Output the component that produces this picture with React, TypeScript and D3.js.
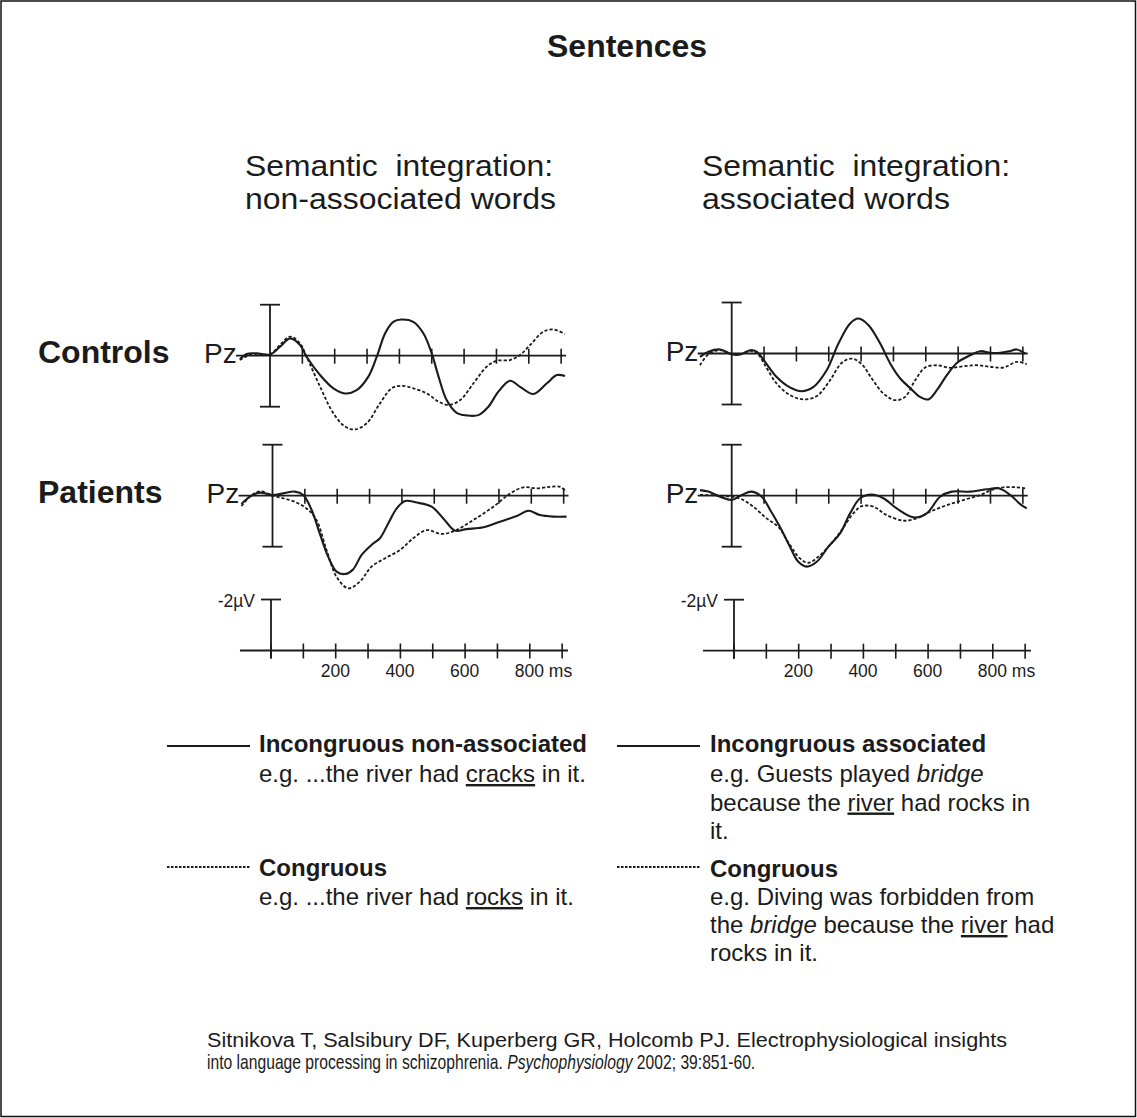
import React from "react";
import * as d3 from "d3";

// ---- Data (time in ms, amplitude in µV; negative plotted up) ----
type Pt = [number, number];

const ctrlNonAssocIncong: Pt[] = [
  [-93, 0.14], [-72, -0.07], [-41, -0.09], [0, -0.05], [31, -0.35], [62, -0.68], [93, -0.42],
  [113, 0.04], [155, 0.76], [196, 1.28], [232, 1.48], [268, 1.35], [304, 0.82], [330, 0.04],
  [356, -0.88], [381, -1.33], [407, -1.42], [443, -1.33], [474, -0.88], [500, -0.09], [521, 0.82],
  [546, 1.74], [577, 2.24], [608, 2.34], [644, 2.33], [675, 2.0], [706, 1.41], [742, 0.98],
  [773, 1.22], [814, 1.5], [856, 1.08], [887, 0.76], [912, 0.8],
];
const ctrlNonAssocCong: Pt[] = [
  [-93, 0.17], [-60, -0.05], [-30, -0.07], [0, -0.05], [31, -0.42], [62, -0.75], [93, -0.48],
  [113, 0.04], [155, 1.22], [196, 2.26], [232, 2.78], [263, 2.89], [299, 2.65], [340, 1.87],
  [376, 1.28], [407, 1.18], [443, 1.28], [485, 1.48], [521, 1.8], [552, 1.93], [588, 1.74],
  [629, 1.08], [670, 0.43], [701, 0.2], [742, 0.17], [773, -0.03], [804, -0.42], [845, -0.94],
  [876, -1.03], [912, -0.85],
];
const ctrlAssocIncong: Pt[] = [
  [-98, 0.13], [-72, -0.07], [-36, -0.16], [0, 0.03], [26, 0.04], [57, -0.13], [77, -0.07],
  [103, 0.33], [139, 0.92], [180, 1.33], [216, 1.48], [253, 1.31], [294, 0.65], [330, -0.39],
  [366, -1.18], [392, -1.37], [423, -1.11], [459, -0.39], [490, 0.39], [521, 0.98], [553, 1.37],
  [582, 1.7], [608, 1.8], [634, 1.44], [665, 0.85], [696, 0.37], [737, 0.07], [768, -0.09],
  [799, -0.03], [830, -0.03], [861, -0.1], [881, -0.16], [907, 0],
];
const ctrlAssocCong: Pt[] = [
  [-98, 0.46], [-72, 0.03], [-36, -0.13], [0, 0.03], [26, 0.03], [57, -0.1], [77, -0.04],
  [103, 0.46], [139, 1.18], [180, 1.63], [222, 1.8], [263, 1.67], [304, 1.05], [340, 0.37],
  [371, 0.2], [402, 0.42], [433, 0.98], [469, 1.57], [505, 1.83], [536, 1.7], [567, 1.05],
  [598, 0.55], [634, 0.46], [675, 0.56], [716, 0.5], [758, 0.46], [799, 0.52], [840, 0.55],
  [881, 0.33], [912, 0.42],
];
const patNonAssocIncong: Pt[] = [
  [-96, 0.33], [-70, 0.04], [-39, -0.12], [0, -0.03], [33, -0.09], [69, -0.16], [95, -0.03],
  [121, 0.56], [146, 1.48], [172, 2.39], [198, 2.98], [224, 3.07], [249, 2.89], [275, 2.33],
  [306, 1.93], [332, 1.67], [358, 1.08], [384, 0.5], [410, 0.21], [446, 0.27], [492, 0.43],
  [528, 0.89], [564, 1.37], [600, 1.31], [652, 1.24], [703, 1.02], [755, 0.8], [791, 0.59],
  [827, 0.76], [868, 0.82], [909, 0.82],
];
const patNonAssocCong: Pt[] = [
  [-96, 0.41], [-70, 0.04], [-39, -0.17], [0, 0], [33, 0.1], [69, 0.24], [105, 0.5],
  [136, 0.95], [167, 2.13], [198, 3.18], [234, 3.63], [270, 3.37], [306, 2.78], [347, 2.46],
  [394, 2.13], [435, 1.67], [476, 1.35], [523, 1.5], [564, 1.37], [621, 0.95], [683, 0.43],
  [735, -0.09], [776, -0.33], [817, -0.29], [858, -0.35], [889, -0.35], [909, -0.16],
];
const patAssocIncong: Pt[] = [
  [-98, -0.22], [-72, -0.16], [-36, 0.04], [0, 0.17], [31, -0.03], [62, -0.16], [93, 0.04],
  [119, 0.56], [149, 1.22], [180, 2.0], [206, 2.59], [232, 2.78], [263, 2.59], [299, 2.0],
  [335, 1.48], [366, 0.69], [397, 0.1], [433, -0.05], [469, 0.1], [510, 0.5], [562, 0.85],
  [603, 0.69], [644, 0.04], [680, -0.16], [737, -0.16], [789, -0.25], [825, -0.29],
  [861, -0.03], [892, 0.33], [912, 0.5],
];
const patAssocCong: Pt[] = [
  [-98, -0.03], [-46, -0.01], [0, 0.04], [31, 0.14], [67, 0.43], [108, 0.89], [144, 1.22],
  [180, 1.93], [211, 2.46], [237, 2.63], [268, 2.39], [304, 1.93], [340, 1.35], [376, 0.69],
  [402, 0.41], [438, 0.43], [479, 0.76], [531, 0.98], [572, 0.89], [613, 0.63], [665, 0.37],
  [716, 0.17], [768, -0.03], [809, -0.25], [840, -0.33], [882, -0.33], [907, -0.29],
];

const axisTicksMs = [100, 200, 300, 400, 500, 600, 700, 800, 900];
const scaleTicksMs = [0, 100, 200, 300, 400, 500, 600, 700, 800, 900];
const scaleLabels = [
  { t: 200, label: "200" },
  { t: 400, label: "400" },
  { t: 600, label: "600" },
  { t: 800, label: "800 ms" },
];
const rowLabels = ["Controls", "Patients"];

// ---- Layout ----
const W = 1137;
const H = 1118;
const PX_PER_100MS = 32.35;
const PX_PER_UV = 25.5;
const FONT = "'Liberation Sans', Arial, Helvetica, sans-serif";
const INK = "#1b1b1b";

const panels = [
  { x0: 270, y0: 355.7, pzY: 363, solid: ctrlNonAssocIncong, dashed: ctrlNonAssocCong },
  { x0: 731.7, y0: 353.5, pzY: 361, solid: ctrlAssocIncong, dashed: ctrlAssocCong },
  { x0: 272.5, y0: 495.7, pzY: 503, solid: patNonAssocIncong, dashed: patNonAssocCong },
  { x0: 731.7, y0: 495.7, pzY: 503, solid: patAssocIncong, dashed: patAssocCong },
];
const scaleBars = [
  { x0: 271, y0: 650.5 },
  { x0: 734, y0: 650.7 },
];

function Panel({ p }: { p: (typeof panels)[number] }) {
  const x = d3.scaleLinear().domain([0, 900]).range([p.x0, p.x0 + 9 * PX_PER_100MS]);
  const y = d3.scaleLinear().domain([-2, 2]).range([p.y0 - 2 * PX_PER_UV, p.y0 + 2 * PX_PER_UV]);
  const line = d3
    .line<Pt>()
    .x((d) => x(d[0]))
    .y((d) => y(d[1]))
    .curve(d3.curveCatmullRom.alpha(0.5));
  return (
    <g>
      <text x={p.x0 - 66} y={p.pzY} fontSize={28} fontFamily={FONT} fill={INK}>
        Pz
      </text>
      <line x1={x(-105)} x2={x(915)} y1={y(0)} y2={y(0)} stroke={INK} strokeWidth={1.8} />
      {axisTicksMs.map((t) => (
        <line key={t} x1={x(t)} x2={x(t)} y1={y(0) - 7} y2={y(0) + 8} stroke={INK} strokeWidth={1.6} />
      ))}
      <line x1={x(0)} x2={x(0)} y1={y(-2)} y2={y(2)} stroke={INK} strokeWidth={1.8} />
      <line x1={x(0) - 10} x2={x(0) + 10} y1={y(-2)} y2={y(-2)} stroke={INK} strokeWidth={1.8} />
      <line x1={x(0) - 10} x2={x(0) + 10} y1={y(2)} y2={y(2)} stroke={INK} strokeWidth={1.8} />
      <path d={line(p.dashed) || ""} fill="none" stroke={INK} strokeWidth={1.8} strokeDasharray="3.2,2" />
      <path d={line(p.solid) || ""} fill="none" stroke={INK} strokeWidth={2.1} />
    </g>
  );
}

function ScaleBar({ s }: { s: (typeof scaleBars)[number] }) {
  const x = d3.scaleLinear().domain([0, 900]).range([s.x0, s.x0 + 9 * PX_PER_100MS]);
  const y = d3.scaleLinear().domain([-2, 0]).range([s.y0 - 2 * PX_PER_UV, s.y0]);
  return (
    <g>
      <text x={x(0) - 16} y={y(-2) + 7.5} fontSize={17.5} fontFamily={FONT} textAnchor="end" fill={INK}>
        -2µV
      </text>
      <line x1={x(0)} x2={x(0)} y1={y(-2)} y2={y(0) + 8} stroke={INK} strokeWidth={1.8} />
      <line x1={x(0) - 10} x2={x(0) + 10} y1={y(-2)} y2={y(-2)} stroke={INK} strokeWidth={1.8} />
      <line x1={x(-96)} x2={x(918)} y1={y(0)} y2={y(0)} stroke={INK} strokeWidth={1.8} />
      {scaleTicksMs.map((t) => (
        <line key={t} x1={x(t)} x2={x(t)} y1={y(0) - 7} y2={y(0) + 8} stroke={INK} strokeWidth={1.6} />
      ))}
      {scaleLabels.map((l) => (
        <text key={l.t} x={x(l.t) - 15} y={y(0) + 26} fontSize={17.5} fontFamily={FONT} fill={INK}>
          {l.label}
        </text>
      ))}
    </g>
  );
}

const U = { textDecoration: "underline" } as React.CSSProperties;
const I = { fontStyle: "italic" } as React.CSSProperties;

export default function App() {
  return (
    <svg
      width={W}
      height={H}
      viewBox={`0 0 ${W} ${H}`}
      style={{ position: "absolute", left: 0, top: 0, background: "#fff" }}
      fontFamily={FONT}
    >
      <rect x={1} y={1} width={W - 2.5} height={H - 2.5} fill="#fff" stroke="#111" strokeWidth={1.5} />
      <text x={547} y={57} fontSize={32} fontWeight="bold" fill={INK}>
        Sentences
      </text>

      <text x={245} y={175.5} fontSize={30} fill={INK} textLength={308} lengthAdjust="spacingAndGlyphs" style={{ whiteSpace: "pre" }}>
        {"Semantic  integration:"}
      </text>
      <text x={245} y={208.5} fontSize={30} fill={INK} textLength={311} lengthAdjust="spacingAndGlyphs">
        non-associated words
      </text>
      <text x={702} y={175.5} fontSize={30} fill={INK} textLength={308} lengthAdjust="spacingAndGlyphs" style={{ whiteSpace: "pre" }}>
        {"Semantic  integration:"}
      </text>
      <text x={702} y={208.5} fontSize={30} fill={INK} textLength={248} lengthAdjust="spacingAndGlyphs">
        associated words
      </text>

      <text x={38} y={363} fontSize={32} fontWeight="bold" fill={INK}>
        {rowLabels[0]}
      </text>
      <text x={38} y={503} fontSize={32} fontWeight="bold" fill={INK}>
        {rowLabels[1]}
      </text>

      {panels.map((p, i) => (
        <Panel key={i} p={p} />
      ))}
      {scaleBars.map((s, i) => (
        <ScaleBar key={i} s={s} />
      ))}

      {/* Legend left */}
      <line x1={167} x2={250} y1={746} y2={746} stroke={INK} strokeWidth={1.8} />
      <text x={259} y={752} fontSize={24} fontWeight="bold" fill={INK}>
        Incongruous non-associated
      </text>
      <text x={259} y={782} fontSize={24} fill={INK}>
        e.g. ...the river had <tspan style={U}>cracks</tspan> in it.
      </text>
      <line x1={167} x2={250} y1={867} y2={867} stroke={INK} strokeWidth={1.8} strokeDasharray="2.5,1.5" />
      <text x={259} y={876} fontSize={24} fontWeight="bold" fill={INK}>
        Congruous
      </text>
      <text x={259} y={905} fontSize={24} fill={INK}>
        e.g. ...the river had <tspan style={U}>rocks</tspan> in it.
      </text>

      {/* Legend right */}
      <line x1={617} x2={700} y1={746} y2={746} stroke={INK} strokeWidth={1.8} />
      <text x={710} y={752} fontSize={24} fontWeight="bold" fill={INK}>
        Incongruous associated
      </text>
      <text x={710} y={782} fontSize={24} fill={INK}>
        e.g. Guests played <tspan style={I}>bridge</tspan>
      </text>
      <text x={710} y={810.5} fontSize={24} fill={INK}>
        because the <tspan style={U}>river</tspan> had rocks in
      </text>
      <text x={710} y={839} fontSize={24} fill={INK}>
        it.
      </text>
      <line x1={617} x2={700} y1={867} y2={867} stroke={INK} strokeWidth={1.8} strokeDasharray="2.5,1.5" />
      <text x={710} y={876.5} fontSize={24} fontWeight="bold" fill={INK}>
        Congruous
      </text>
      <text x={710} y={905} fontSize={24} fill={INK}>
        e.g. Diving was forbidden from
      </text>
      <text x={710} y={933} fontSize={24} fill={INK}>
        the <tspan style={I}>bridge</tspan> because the <tspan style={U}>river</tspan> had
      </text>
      <text x={710} y={961} fontSize={24} fill={INK}>
        rocks in it.
      </text>

      {/* Citation */}
      <text x={207} y={1047} fontSize={20} fill={INK} textLength={800} lengthAdjust="spacingAndGlyphs">
        Sitnikova T, Salsibury DF, Kuperberg GR, Holcomb PJ. Electrophysiological insights
      </text>
      <g transform="translate(207,1069) scale(0.783,1)">
        <text x={0} y={0} fontSize={20} fill={INK}>
          into language processing in schizophrenia. <tspan style={I}>Psychophysiology</tspan> 2002; 39:851-60.
        </text>
      </g>
    </svg>
  );
}
